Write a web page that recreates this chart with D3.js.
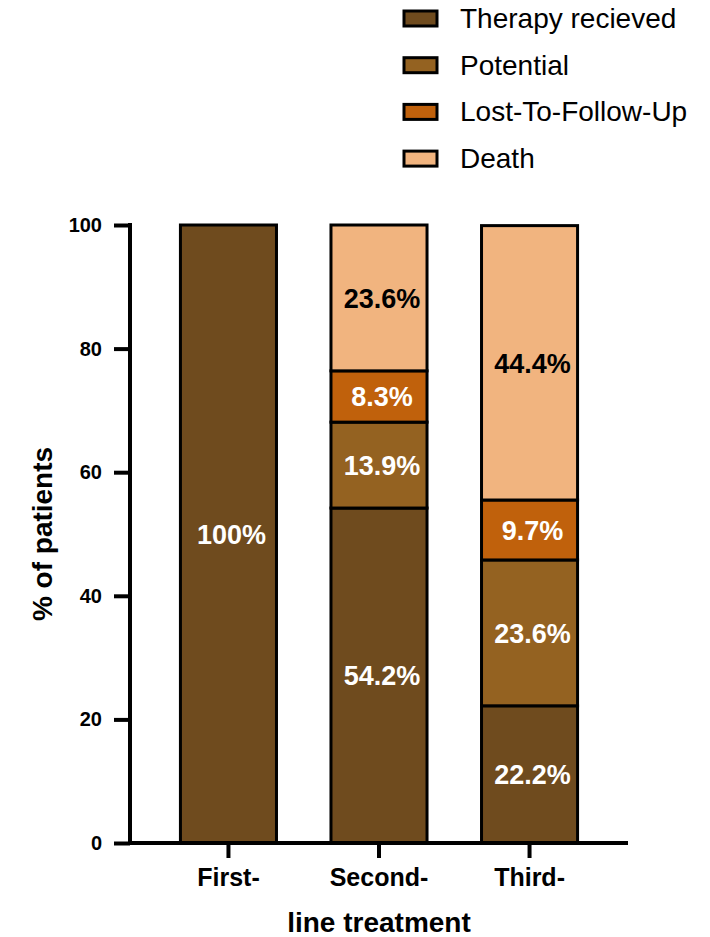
<!DOCTYPE html>
<html>
<head>
<meta charset="utf-8">
<script src="https://cdn.jsdelivr.net/npm/d3@7"></script>
<style>
  html, body { margin: 0; padding: 0; background: #fff; }
  svg { display: block; }
  text { font-family: "Liberation Sans", Arial, sans-serif; }
</style>
</head>
<body>
<script>
// ---- data ----
const categories = ["First-", "Second-", "Third-"];
const seriesNames = ["Therapy recieved", "Potential", "Lost-To-Follow-Up", "Death"];
const therapyValues = [100, 54.2, 22.2];
const potentialValues = [0, 13.9, 23.6];
const lostValues = [0, 8.3, 9.7];
const deathValues = [0, 23.6, 44.4];
const yTicks = [0, 20, 40, 60, 80, 100];
const seriesColors = ["#6f4b1e", "#946221", "#c0610c", "#f1b47f"];
const labelColors = ["#ffffff", "#ffffff", "#ffffff", "#000000"];
const yTitle = "% of patients";
const xTitle = "line treatment";

const seriesValues = [therapyValues, potentialValues, lostValues, deathValues];
const rows = categories.map((c, i) => {
  const r = { cat: c };
  seriesNames.forEach((s, j) => r[s] = seriesValues[j][i]);
  return r;
});
const stacked = d3.stack().keys(seriesNames)(rows);

const W = 710, H = 937;
const svg = d3.select("body").append("svg").attr("width", W).attr("height", H);

const y = d3.scaleLinear().domain([0, 100]).range([843, 225]);
const x = d3.scaleBand().domain(categories).range([130, 628])
  .paddingInner(0.362).paddingOuter(0.335);

// bars
const g = svg.append("g");
stacked.forEach((layer, j) => {
  g.selectAll(null).data(layer.filter(d => d[1] - d[0] > 0)).enter().append("rect")
    .attr("x", d => x(d.data.cat))
    .attr("width", x.bandwidth())
    .attr("y", d => y(d[1]))
    .attr("height", d => y(d[0]) - y(d[1]))
    .attr("fill", seriesColors[j])
    .attr("stroke", "#000")
    .attr("stroke-width", 3);
});
// labels
stacked.forEach((layer, j) => {
  g.selectAll(null).data(layer.filter(d => d[1] - d[0] > 0)).enter().append("text")
    .attr("x", d => x(d.data.cat) + x.bandwidth() / 2 + 3)
    .attr("y", d => y((d[0] + d[1]) / 2))
    .attr("dy", "0.36em")
    .attr("text-anchor", "middle")
    .attr("font-size", 27)
    .attr("font-weight", "bold")
    .attr("fill", labelColors[j])
    .text(d => d3.format(".1~f")(d[1] - d[0]) + "%");
});

// y axis
const yAxis = svg.append("g").attr("transform", "translate(130,0)")
  .call(d3.axisLeft(y).tickValues(yTicks).tickSize(16).tickPadding(12).tickSizeOuter(0));
yAxis.select(".domain").attr("stroke", "#000").attr("stroke-width", 4)
  .attr("d", `M0,${y(100) - 2}V${y(0) + 2}`);
yAxis.selectAll(".tick line").attr("stroke", "#000").attr("stroke-width", 4);
yAxis.selectAll(".tick text").attr("font-size", 20).attr("font-weight", "bold")
  .attr("font-family", "Liberation Sans, Arial, sans-serif").attr("fill", "#000");

// x axis
const xAxis = svg.append("g").attr("transform", `translate(0,${y(0)})`)
  .call(d3.axisBottom(x).tickSize(15).tickPadding(10).tickSizeOuter(0));
xAxis.select(".domain").attr("stroke", "#000").attr("stroke-width", 4)
  .attr("d", "M128,0H628");
xAxis.selectAll(".tick line").attr("stroke", "#000").attr("stroke-width", 4);
xAxis.selectAll(".tick text").attr("font-size", 25).attr("font-weight", "bold")
  .attr("font-family", "Liberation Sans, Arial, sans-serif").attr("fill", "#000");

// titles
svg.append("text")
  .attr("transform", `translate(52,${(y(0) + y(100)) / 2}) rotate(-90)`)
  .attr("text-anchor", "middle")
  .attr("font-size", 28).attr("font-weight", "bold")
  .text(yTitle);
svg.append("text")
  .attr("x", x("Second-") + x.bandwidth() / 2)
  .attr("y", 932)
  .attr("text-anchor", "middle")
  .attr("font-size", 28).attr("font-weight", "bold")
  .text(xTitle);

// legend
const legend = svg.append("g").attr("transform", "translate(403,18)");
seriesNames.forEach((s, j) => {
  const row = legend.append("g").attr("transform", `translate(0,${j * 46.7})`);
  row.append("rect").attr("x", 1).attr("y", -7).attr("width", 33).attr("height", 15)
    .attr("fill", seriesColors[j]).attr("stroke", "#000").attr("stroke-width", 3);
  row.append("text").attr("x", 57).attr("y", 10)
    .attr("font-size", 28).attr("fill", "#000").text(s);
});
</script>
</body>
</html>
